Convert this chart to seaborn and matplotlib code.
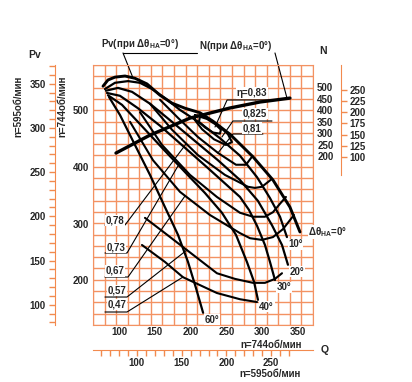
import numpy as np
import matplotlib
matplotlib.use("Agg")
import matplotlib.pyplot as plt
import seaborn as sns

sns.set_style("white")
plt.rcParams['font.family'] = ['Liberation Sans', 'DejaVu Sans']
plt.rcParams['font.weight'] = 'bold'
plt.rcParams['mathtext.default'] = 'regular'

ORANGE = "#F28A4E"
GRID = "#F39262"

# pressure curves at n=744 rpm for each guide vane angle: Q (x), Pv (y)
q_0 = [77.7, 84.6, 94.4, 108.4, 122.3, 139.1, 157.3, 174.0, 192.2, 213.1, 231.3, 255.0, 287.2, 315.1, 338.8, 352.8]
pv_0 = [543, 554, 559, 561, 557, 547, 527, 513, 504, 496, 481, 458, 418, 377, 329, 285]
q_10 = [80.4, 94.4, 112.6, 129.3, 146.1, 164.2, 185.2, 213.1, 241.0, 269.0, 292.8, 310.9, 324.9, 334.6]
pv_10 = [538, 549, 552, 549, 538, 522, 501, 478, 451, 420, 382, 345, 312, 276]
q_20 = [81.8, 98.6, 118.2, 143.3, 174.0, 206.1, 238.2, 269.0, 294.1, 313.7, 327.7, 336.0]
pv_20 = [535, 540, 533, 512, 480, 446, 412, 377, 340, 297, 262, 227]
q_30 = [83.2, 101.4, 126.5, 157.3, 192.2, 224.3, 255.0, 269.0, 281.6, 292.8, 303.9, 310.9, 317.9]
pv_30 = [531, 526, 504, 473, 434, 398, 363, 347, 324, 296, 262, 232, 200]
q_40 = [84.6, 104.2, 129.3, 160.1, 192.2, 220.1, 243.8, 263.4, 278.7, 288.6, 294.1]
pv_40 = [527, 510, 476, 434, 391, 354, 319, 280, 232, 197, 165]
q_60 = [86.0, 101.4, 122.3, 143.3, 164.2, 182.4, 196.4, 207.5, 217.5]
pv_60 = [524, 492, 439, 386, 329, 280, 232, 186, 142]
angles = ["10°", "20°", "30°", "40°", "60°"]

# power curve N at n=744 rpm
q_n = [95.8, 143.3, 199.2, 255.0, 296.9, 338.8]
n_n = [213, 291, 365, 409, 435, 452]

# efficiency contours (eta)
eta_83 = ([213.1, 222.9, 234.1, 242.4, 241.0, 231.3, 220.1, 211.7, 213.1],
          [489, 485, 476, 466, 459, 461, 470, 480, 489])
eta_825 = ([206.1, 220.1, 236.8, 252.2, 257.8, 249.4, 232.7, 215.9, 206.1, 206.1],
           [492, 488, 476, 458, 444, 439, 449, 467, 483, 492])
eta_81 = ([157.3, 182.4, 210.3, 238.2, 263.4, 277.4, 285.7],
          [519, 487, 453, 425, 404, 404, 418])
eta_78 = ([143.3, 174.0, 210.3, 248.0, 280.1, 289.9, 299.7, 313.7],
          [512, 466, 421, 386, 365, 363, 365, 379])
eta_73 = ([129.3, 160.1, 199.2, 236.8, 269.0, 287.2, 303.9, 315.1, 324.9, 333.2],
          [497, 439, 386, 347, 319, 312, 312, 320, 335, 347])
eta_67 = ([115.4, 147.5, 185.2, 227.1, 269.0, 283.0, 299.7, 315.1, 329.0, 344.4],
          [480, 412, 356, 315, 283, 274, 271, 276, 290, 315])
eta_57 = ([136.3, 164.2, 194.9, 236.8, 262.0, 287.2, 303.9, 317.9, 327.7],
          [310, 283, 253, 212, 202, 195, 195, 202, 212])
eta_47 = ([132.1, 164.2, 189.4, 236.8, 269.0, 292.8],
          [262, 232, 205, 177, 166, 161])

fig = plt.figure(figsize=(4.12, 3.82), dpi=100)
ax = fig.add_axes([93 / 412, 57 / 382, 220 / 412, 260 / 382])
ax.set_xlim(63.7, 371)
ax.set_ylim(120.4, 580.5)

# orange grid
ax.set_xticks(np.linspace(63.7, 371, 20))
ax.set_yticks(np.arange(120.4, 581, 20))
ax.tick_params(length=0, labelbottom=False, labelleft=False)
ax.grid(True, color=GRID, lw=1.0)
for s in ax.spines.values():
    s.set_color(GRID)

sns.lineplot(x=q_0, y=pv_0, ax=ax, color="black", lw=2.1, sort=False, estimator=None)
for q, pv in [(q_10, pv_10), (q_20, pv_20), (q_30, pv_30), (q_40, pv_40), (q_60, pv_60)]:
    sns.lineplot(x=q, y=pv, ax=ax, color="black", lw=1.6, sort=False, estimator=None)
for q, pv in [eta_83, eta_825, eta_81, eta_78, eta_73, eta_67, eta_57, eta_47]:
    sns.lineplot(x=q, y=pv, ax=ax, color="black", lw=1.5, sort=False, estimator=None)

bbox = dict(facecolor="white", edgecolor="none", pad=0.4)

# angle labels at curve ends
ends = [(q_10[-1], pv_10[-1]), (q_20[-1], pv_20[-1]), (q_30[-1], pv_30[-1]),
        (q_40[-1], pv_40[-1]), (q_60[-1], pv_60[-1])]
for t, (q, pv) in zip(angles, ends):
    ax.annotate(t, (q, pv), xytext=(1, -1.5), textcoords="offset points", fontsize=7,
                ha="left", va="top", bbox=bbox, zorder=6)
ax.annotate("Δθ$_{НА}$=0°", (q_0[-1], pv_0[-1]), xytext=(6, 0), textcoords="offset points",
            fontsize=7, ha="left", va="center", annotation_clip=False, bbox=bbox, zorder=6)

# efficiency labels: text position, underline span, leader end
eta_notes = [
    ("η=0,83", (286.0, 531), (251.0, 310.9, 518.6), (234.1, 470.8)),
    ("0,825", (290.1, 494), (259.2, 313.7, 481.4), (243.8, 453.1)),
    ("0,81", (286.0, 469), (259.2, 301.1, 458.4), (238.2, 424.8)),
    ("0,78", (94.5, 306), (80.4, 108.4, 297.3), (193.6, 440.7)),
    ("0,73", (96.0, 257), (80.4, 111.2, 247.8), (182.4, 401.8)),
    ("0,67", (94.5, 216), (80.4, 112.6, 205.3), (192.2, 348.7)),
    ("0,57", (97.4, 182), (80.4, 111.2, 169.9), (194.9, 253.1)),
    ("0,47", (97.4, 156), (80.4, 111.2, 143.4), (189.4, 205.3)),
]
for txt, (tq, tp), (u0, u1, up), (lq, lp) in eta_notes:
    if tq > 200:
        ax.plot([u1, u0, lq], [up, up, lp], color="black", lw=0.8, zorder=5)
    else:
        ax.plot([u0, u1, lq], [up, up, lp], color="black", lw=0.8, zorder=5)
    ax.text(tq, tp, txt, fontsize=7, ha="center", va="center", bbox=bbox, zorder=6)

# power axis (inner, 744 rpm)
ax2 = ax.twinx()
ax2.set_ylim(-535, 596)
ax2.set_yticks(np.arange(200, 501, 50))
ax2.tick_params(length=0, pad=3, labelsize=7)
for s in ax2.spines.values():
    s.set_visible(False)
sns.lineplot(x=q_n, y=n_n, ax=ax2, color="black", lw=2.4, sort=False, estimator=None)

# labels of the Pv and N curves with leaders
ax.plot([105.6, 208.9], [601.8, 601.8], color="black", lw=0.8, clip_on=False)
ax.plot([105.6, 119.6], [601.8, 557.5], color="black", lw=0.8, clip_on=False)
ax.plot([317.9, 334.6], [601.8, 522.1], color="black", lw=0.8, clip_on=False)

# left inner Pv axis (744)
sl = ax.secondary_yaxis("left")
sl.set_yticks([200, 300, 400, 500])
sl.tick_params(length=0, pad=3, labelsize=7)
sl.spines["left"].set_visible(False)

# left outer Pv axis (595)
k_p = (595 / 744) ** 2
so = ax.secondary_yaxis(-38 / 220, functions=(lambda p: p * k_p, lambda p: p / k_p))
so.set_yticks(np.arange(100, 351, 50))
so.set_yticks(np.arange(80, 371, 10), minor=True)
so.tick_params(which="both", length=4.5, width=1, color=ORANGE, pad=2, labelsize=7)
so.spines["left"].set_color(ORANGE)

# bottom Q axis (744)
sb = ax.secondary_xaxis("bottom")
sb.set_xticks(np.arange(100, 351, 50))
sb.tick_params(length=0, pad=1.5, labelsize=7)
sb.spines["bottom"].set_visible(False)

# bottom outer Q axis (595)
k_q = 595 / 744
sq = ax.secondary_xaxis(-25 / 260, functions=(lambda q: q * k_q, lambda q: q / k_q))
sq.set_xticks(np.arange(100, 251, 50))
sq.set_xticks(np.arange(60, 271, 10), minor=True)
sq.tick_params(which="both", length=4.5, width=1, color=ORANGE, pad=1.5, labelsize=7)
sq.spines["bottom"].set_color(ORANGE)

# right outer N axis (595)
k_n = (595 / 744) ** 3
sn = ax2.secondary_yaxis(1 + 28 / 220, functions=(lambda n: n * k_n, lambda n: n / k_n))
sn.set_yticks(np.arange(100, 251, 25))
sn.tick_params(length=4, width=1, color=ORANGE, pad=2, labelsize=7)
sn.spines["right"].set_color(ORANGE)
sn.spines["right"].set_bounds(60, 305)

# titles and axis notes
fig.text(35 / 412, 1 - 55 / 382, "Pv", fontsize=7.5, ha="center", va="center")
fig.text(323 / 412, 1 - 51 / 382, "N", fontsize=7.5, ha="center", va="center")
fig.text(325 / 412, 1 - 350 / 382, "Q", fontsize=7.5, ha="center", va="center")
fig.text(18 / 412, 1 - 106 / 382, "n=595об/мин", fontsize=7, rotation=90, ha="center", va="center")
fig.text(62 / 412, 1 - 106 / 382, "n=744об/мин", fontsize=7, rotation=90, ha="center", va="center")
fig.text(271 / 412, 1 - 345 / 382, "n=744об/мин", fontsize=7, ha="center", va="center")
fig.text(270 / 412, 1 - 374 / 382, "n=595об/мин", fontsize=7, ha="center", va="center")

fig.text(140 / 412, 1 - 44 / 382, "Pv(при Δθ$_{НА}$=0°)", fontsize=7, ha="center", va="center")
fig.text(236 / 412, 1 - 46 / 382, "N(при Δθ$_{НА}$=0°)", fontsize=7, ha="center", va="center")

fig.savefig("out.png", dpi=100)
